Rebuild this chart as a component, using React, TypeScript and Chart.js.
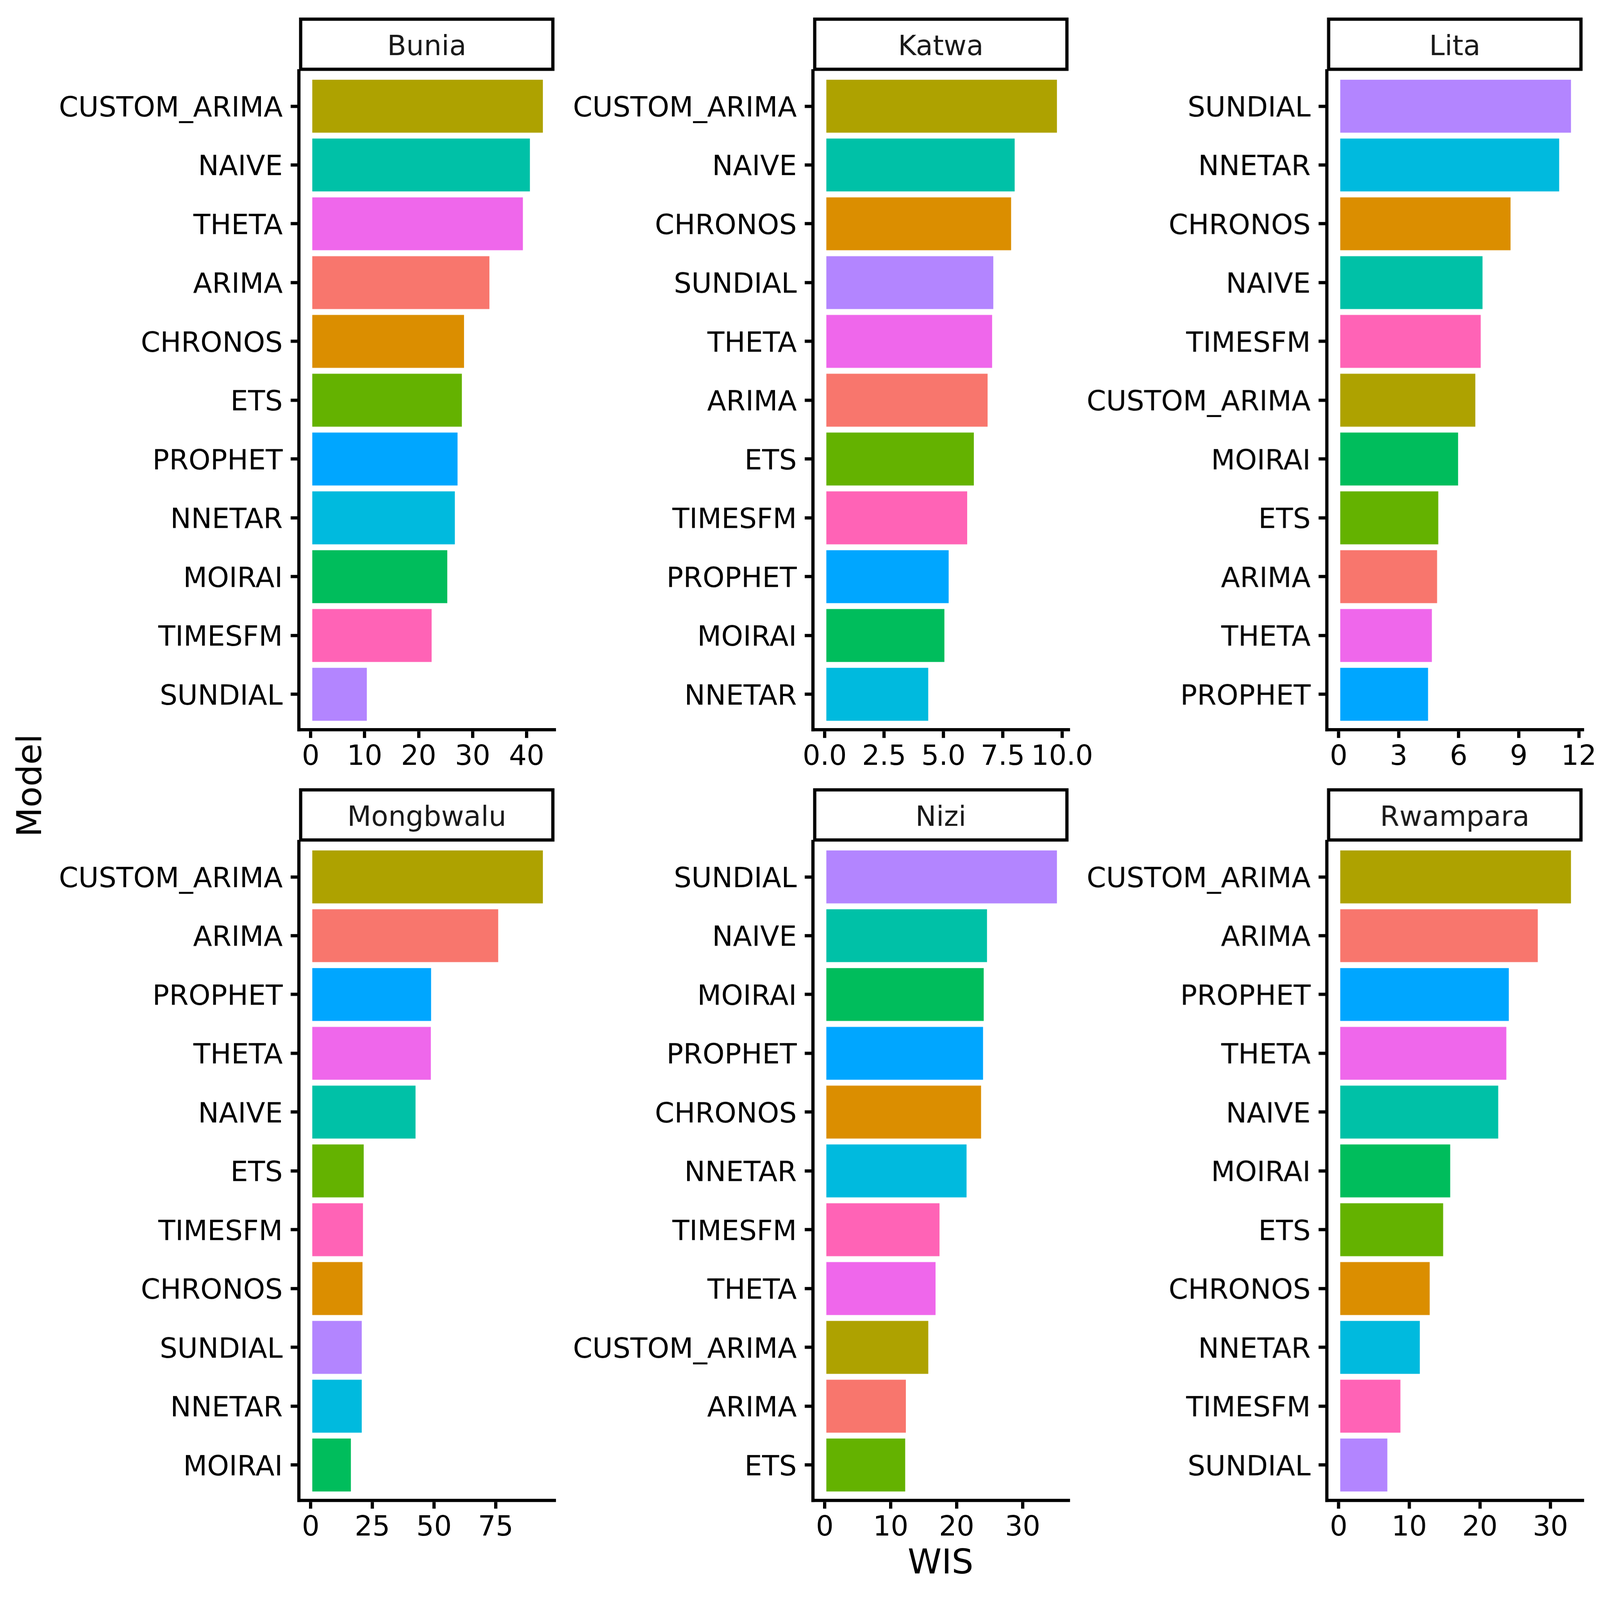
import React, { useEffect, useRef } from "react";
import { Chart, registerables } from "chart.js";

Chart.register(...registerables);

// ---- Colours (ggplot default hue palette, models in alphabetical order)
const modelNames = ["ARIMA", "CHRONOS", "CUSTOM_ARIMA", "ETS", "MOIRAI", "NAIVE", "NNETAR", "PROPHET", "SUNDIAL", "THETA", "TIMESFM"];
const modelPalette = ["#F8766D", "#DB8E00", "#AEA200", "#64B200", "#00BD5C", "#00C1A7", "#00BADE", "#00A6FF", "#B385FF", "#EF67EB", "#FF63B6"];

// ---- Data (top to bottom within each panel)
const buniaModels = ["CUSTOM_ARIMA", "NAIVE", "THETA", "ARIMA", "CHRONOS", "ETS", "PROPHET", "NNETAR", "MOIRAI", "TIMESFM", "SUNDIAL"];
const buniaWIS = [43.0, 40.6, 39.3, 33.1, 28.4, 28.0, 27.2, 26.7, 25.3, 22.4, 10.4];
const buniaTicks = [0, 10, 20, 30, 40];
const buniaTickLabels = ["0", "10", "20", "30", "40"];

const katwaModels = ["CUSTOM_ARIMA", "NAIVE", "CHRONOS", "SUNDIAL", "THETA", "ARIMA", "ETS", "TIMESFM", "PROPHET", "MOIRAI", "NNETAR"];
const katwaWIS = [9.78, 8.0, 7.85, 7.1, 7.05, 6.86, 6.28, 6.0, 5.22, 5.04, 4.36];
const katwaTicks = [0, 2.5, 5, 7.5, 10];
const katwaTickLabels = ["0.0", "2.5", "5.0", "7.5", "10.0"];

const litaModels = ["SUNDIAL", "NNETAR", "CHRONOS", "NAIVE", "TIMESFM", "CUSTOM_ARIMA", "MOIRAI", "ETS", "ARIMA", "THETA", "PROPHET"];
const litaWIS = [11.61, 11.02, 8.59, 7.19, 7.1, 6.83, 5.97, 4.98, 4.92, 4.66, 4.47];
const litaTicks = [0, 3, 6, 9, 12];
const litaTickLabels = ["0", "3", "6", "9", "12"];

const mongbwaluModels = ["CUSTOM_ARIMA", "ARIMA", "PROPHET", "THETA", "NAIVE", "ETS", "TIMESFM", "CHRONOS", "SUNDIAL", "NNETAR", "MOIRAI"];
const mongbwaluWIS = [94.1, 76.0, 48.8, 48.7, 42.5, 21.5, 21.2, 21.0, 20.7, 20.7, 16.3];
const mongbwaluTicks = [0, 25, 50, 75];
const mongbwaluTickLabels = ["0", "25", "50", "75"];

const niziModels = ["SUNDIAL", "NAIVE", "MOIRAI", "PROPHET", "CHRONOS", "NNETAR", "TIMESFM", "THETA", "CUSTOM_ARIMA", "ARIMA", "ETS"];
const niziWIS = [35.2, 24.6, 24.1, 24.0, 23.7, 21.5, 17.4, 16.8, 15.7, 12.3, 12.2];
const niziTicks = [0, 10, 20, 30];
const niziTickLabels = ["0", "10", "20", "30"];

const rwamparaModels = ["CUSTOM_ARIMA", "ARIMA", "PROPHET", "THETA", "NAIVE", "MOIRAI", "ETS", "CHRONOS", "NNETAR", "TIMESFM", "SUNDIAL"];
const rwamparaWIS = [32.9, 28.2, 24.1, 23.75, 22.6, 15.8, 14.8, 12.9, 11.5, 8.75, 6.9];
const rwamparaTicks = [0, 10, 20, 30];
const rwamparaTickLabels = ["0", "10", "20", "30"];

const sites = ["Bunia", "Katwa", "Lita", "Mongbwalu", "Nizi", "Rwampara"];

// ---- Layout (designed on a 4200 px figure, scaled to the actual viewport)
const DESIGN = 4200;
const VIEW = typeof window !== "undefined" ? Math.min(window.innerWidth || DESIGN, window.innerHeight || DESIGN) : DESIGN;
const K = VIEW / DESIGN;
const px = (v: number) => v * K;

const FONT = "'DejaVu Sans', sans-serif";
const LINE_W = px(8.5);
const TICK_LEN = px(22);
const LABEL_FONT = px(73);
const TITLE_FONT = px(90);
const Y_AXIS_W = px(785);
const PLOT_W = px(671);
const RIGHT_PAD = px(100);
const STRIP_TOP = px(46);
const STRIP_H = px(140);
const PLOT_H = px(1729);
const X_AXIS_H = px(150);
const COL_STEP = px(1349);
const ROW_STEP = px(2023);
const Y_LABEL_PAD = px(21);
const Y_LABEL_SHIFT = px(8);
const X_LABEL_PAD = px(8);
const STRIP_TEXT_SHIFT = px(2);
const CANVAS_W = Y_AXIS_W + PLOT_W + RIGHT_PAD;
const CANVAS_H = STRIP_TOP + STRIP_H + PLOT_H + X_AXIS_H;

const stripPlugin = {
  id: "facetStrip",
  afterDraw(chart: any, _args: any, opts: any) {
    const { ctx, chartArea } = chart;
    const top = chartArea.top - STRIP_H;
    const w = chartArea.right - chartArea.left;
    ctx.save();
    ctx.lineWidth = LINE_W;
    ctx.strokeStyle = "#000";
    ctx.strokeRect(chartArea.left + LINE_W / 2, top + LINE_W / 2, w - LINE_W, STRIP_H - LINE_W);
    ctx.fillStyle = "#1A1A1A";
    ctx.font = `${LABEL_FONT}px ${FONT}`;
    ctx.textAlign = "center";
    ctx.textBaseline = "alphabetic";
    const capH = LABEL_FONT * 0.729;
    ctx.fillText(opts.title, chartArea.left + w / 2, top + STRIP_H / 2 + capH / 2 + STRIP_TEXT_SHIFT);
    ctx.restore();
  },
};

type PanelProps = {
  title: string;
  models: string[];
  values: number[];
  ticks: number[];
  tickLabels: string[];
  col: number;
  row: number;
};

function Panel({ title, models, values, ticks, tickLabels, col, row }: PanelProps) {
  const ref = useRef<HTMLCanvasElement | null>(null);
  useEffect(() => {
    if (!ref.current) return;
    const maxV = Math.max(...values);
    const colors = models.map((m) => modelPalette[modelNames.indexOf(m)]);
    const chart = new Chart(ref.current, {
      type: "bar",
      data: {
        datasets: [
          {
            data: values.map((v, i) => ({ x: v, y: i + 1 })),
            backgroundColor: colors,
            borderWidth: 0,
            barPercentage: 0.9,
            categoryPercentage: 1.0,
          } as any,
        ],
      },
      plugins: [stripPlugin as any],
      options: {
        indexAxis: "y",
        animation: false,
        responsive: false,
        devicePixelRatio: 1,
        layout: { padding: { top: STRIP_TOP + STRIP_H, right: RIGHT_PAD, bottom: 0, left: 0 } },
        plugins: {
          legend: { display: false },
          tooltip: { enabled: false },
          facetStrip: { title },
        } as any,
        scales: {
          x: {
            type: "linear",
            offset: false,
            min: -0.05 * maxV,
            max: 1.05 * maxV,
            afterBuildTicks: (s: any) => {
              s.ticks = ticks.map((v) => ({ value: v }));
            },
            afterFit: (s: any) => {
              s.height = X_AXIS_H;
              s.paddingLeft = 0;
              s.paddingRight = 0;
            },
            ticks: {
              autoSkip: false,
              maxRotation: 0,
              minRotation: 0,
              padding: X_LABEL_PAD,
              color: "#000",
              font: { family: FONT, size: LABEL_FONT },
              callback: (_v: any, i: number) => tickLabels[i],
            },
            grid: { offset: false, drawOnChartArea: false, color: "#000", lineWidth: LINE_W, tickLength: TICK_LEN },
            border: { color: "#000", width: LINE_W },
          },
          y: {
            type: "linear",
            offset: false,
            reverse: true,
            min: 0.4,
            max: models.length + 0.6,
            afterBuildTicks: (s: any) => {
              s.ticks = models.map((_m, i) => ({ value: i + 1 }));
            },
            afterFit: (s: any) => {
              s.width = Y_AXIS_W;
              s.paddingTop = 0;
              s.paddingBottom = 0;
            },
            ticks: {
              autoSkip: false,
              padding: Y_LABEL_PAD,
              labelOffset: Y_LABEL_SHIFT,
              color: "#000",
              font: { family: FONT, size: LABEL_FONT },
              callback: (_v: any, i: number) => models[i],
            },
            grid: { offset: false, drawOnChartArea: false, color: "#000", lineWidth: LINE_W, tickLength: TICK_LEN },
            border: { color: "#000", width: LINE_W },
          },
        } as any,
      },
    });
    return () => chart.destroy();
  }, []);
  return (
    <canvas
      ref={ref}
      width={CANVAS_W}
      height={CANVAS_H}
      style={{
        position: "absolute",
        left: col * COL_STEP,
        top: row * ROW_STEP,
        width: CANVAS_W,
        height: CANVAS_H,
      }}
    />
  );
}

export default function App() {
  const panels = [
    { models: buniaModels, values: buniaWIS, ticks: buniaTicks, tickLabels: buniaTickLabels },
    { models: katwaModels, values: katwaWIS, ticks: katwaTicks, tickLabels: katwaTickLabels },
    { models: litaModels, values: litaWIS, ticks: litaTicks, tickLabels: litaTickLabels },
    { models: mongbwaluModels, values: mongbwaluWIS, ticks: mongbwaluTicks, tickLabels: mongbwaluTickLabels },
    { models: niziModels, values: niziWIS, ticks: niziTicks, tickLabels: niziTickLabels },
    { models: rwamparaModels, values: rwamparaWIS, ticks: rwamparaTicks, tickLabels: rwamparaTickLabels },
  ];
  return (
    <div
      style={{
        position: "absolute",
        left: 0,
        top: 0,
        width: px(DESIGN),
        height: px(DESIGN),
        overflow: "hidden",
        background: "#fff",
        fontFamily: FONT,
      }}
    >
      {panels.map((p, i) => (
        <Panel key={sites[i]} title={sites[i]} {...p} col={i % 3} row={Math.floor(i / 3)} />
      ))}
      <div
        style={{
          position: "absolute",
          left: px(77.5),
          top: px(2062),
          transform: "translate(-50%, -50%) rotate(-90deg)",
          fontSize: TITLE_FONT,
          lineHeight: 1,
          color: "#000",
          whiteSpace: "nowrap",
        }}
      >
        Model
      </div>
      <div
        style={{
          position: "absolute",
          left: px(2469),
          top: px(4101),
          transform: "translate(-50%, -50%)",
          fontSize: TITLE_FONT,
          lineHeight: 1,
          color: "#000",
          whiteSpace: "nowrap",
        }}
      >
        WIS
      </div>
    </div>
  );
}
